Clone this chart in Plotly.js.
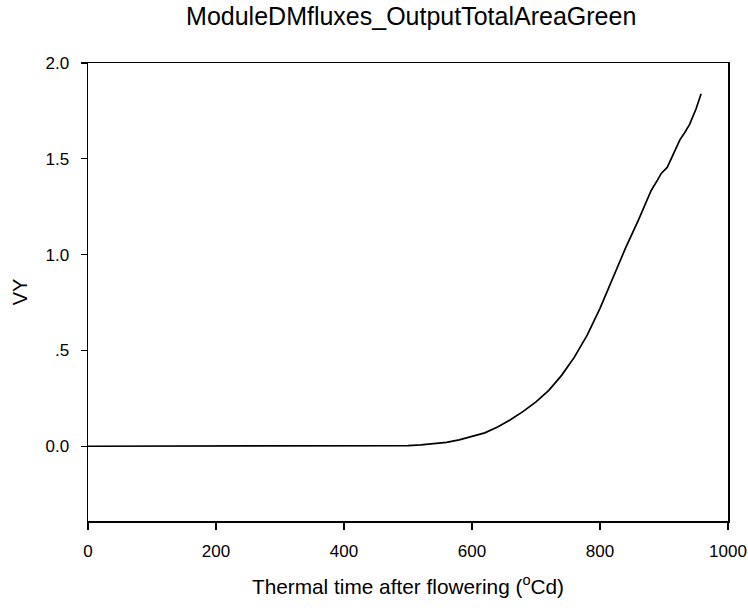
<!DOCTYPE html>
<html>
<head>
<meta charset="utf-8">
<script src="https://cdn.plot.ly/plotly-3.0.1.min.js"></script>
<style>html,body{margin:0;padding:0;background:#fff;}</style>
</head>
<body>
<div id="chart" style="width:748px;height:608px;"></div>
<script>
const thermalTime = [0, 50, 100, 150, 200, 250, 300, 350, 400, 450, 480, 500, 520, 540, 560, 580, 600, 620, 640, 660, 680, 700, 720, 740, 760, 780, 800, 820, 840, 860, 880, 890, 896, 905, 915, 925, 932, 940, 950, 958];
const vyValues = [0, 0, 0, 0, 0, 0, 0, 0, 0, 0.001, 0.002, 0.003, 0.007, 0.012, 0.02, 0.033, 0.05, 0.07, 0.1, 0.138, 0.182, 0.232, 0.292, 0.37, 0.465, 0.58, 0.72, 0.88, 1.035, 1.18, 1.335, 1.39, 1.425, 1.455, 1.53, 1.6, 1.635, 1.68, 1.76, 1.84];
const yTickVals = [0, 0.5, 1.0, 1.5, 2.0];
const yTickText = ["0.0", ".5", "1.0", "1.5", "2.0"];
const xTickVals = [0, 200, 400, 600, 800, 1000];

const trace = {
  x: thermalTime,
  y: vyValues,
  type: 'scatter',
  mode: 'lines',
  line: {color: '#000000', width: 1.7},
  hoverinfo: 'skip'
};

const layout = {
  width: 748,
  height: 608,
  margin: {l: 88, r: 20, t: 63, b: 87},
  paper_bgcolor: '#ffffff',
  plot_bgcolor: '#ffffff',
  showlegend: false,
  font: {family: 'Liberation Sans, Arial, sans-serif', color: '#000'},
  title: {
    text: 'ModuleDMfluxes_OutputTotalAreaGreen',
    font: {size: 25, color: '#000'},
    xref: 'paper', x: 0.505, xanchor: 'center',
    yref: 'container', y: 0.974, yanchor: 'middle'
  },
  xaxis: {
    range: [0, 1000],
    tickvals: xTickVals,
    ticktext: xTickVals.map(String),
    ticks: 'outside', ticklen: 7, tickwidth: 1.3, tickcolor: '#000',
    showline: true, linecolor: '#000', linewidth: 1.5, mirror: true,
    showgrid: false, zeroline: false,
    tickfont: {size: 17, color: '#000'},
    ticklabelstandoff: 7,
    title: {text: 'Thermal time after flowering (<sup>o</sup>Cd)', font: {size: 20.8, color: '#000'}, standoff: 19}
  },
  yaxis: {
    range: [-0.39, 2.0],
    tickvals: yTickVals,
    ticktext: yTickText,
    ticks: 'outside', ticklen: 6, tickwidth: 1.3, tickcolor: '#000',
    showline: true, linecolor: '#000', linewidth: 1.5, mirror: true,
    showgrid: false, zeroline: false,
    tickfont: {size: 17, color: '#000'},
    ticklabelstandoff: 8,
    title: {text: 'VY', font: {size: 20, color: '#000'}, standoff: 12}
  }
};

Plotly.newPlot('chart', [trace], layout, {displayModeBar: false, staticPlot: true});
</script>
</body>
</html>
